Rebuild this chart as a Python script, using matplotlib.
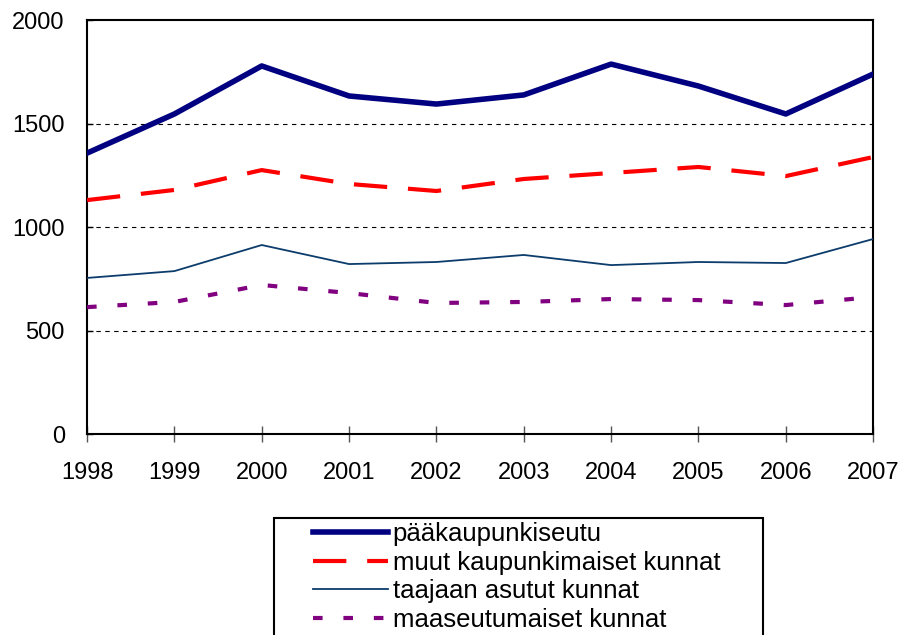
import matplotlib
matplotlib.use("Agg")
import matplotlib.pyplot as plt
from matplotlib.patches import Rectangle

years = [1998, 1999, 2000, 2001, 2002, 2003, 2004, 2005, 2006, 2007]
paakaupunkiseutu = [1357, 1546, 1778, 1633, 1594, 1638, 1787, 1681, 1546, 1739]
muut_kaupunkimaiset = [1130, 1179, 1275, 1208, 1174, 1232, 1261, 1290, 1246, 1338]
taajaan_asutut = [754, 787, 913, 821, 831, 865, 816, 831, 826, 942]
maaseutumaiset = [613, 638, 720, 681, 633, 638, 652, 647, 623, 662]
labels = ["pääkaupunkiseutu", "muut kaupunkimaiset kunnat",
          "taajaan asutut kunnat", "maaseutumaiset kunnat"]
y_ticks = [0, 500, 1000, 1500, 2000]

plt.rcParams["font.family"] = ["Liberation Sans", "DejaVu Sans"]

fig = plt.figure(figsize=(9.02, 6.35), dpi=100)
ax = fig.add_axes([0.0965, 0.3165, 0.8715, 0.652])

ax.plot(years, paakaupunkiseutu, color="#000080", lw=4.0,
        solid_joinstyle="round", label=labels[0], zorder=4)
ax.plot(years, muut_kaupunkimaiset, color="#ff0000", lw=3.0,
        dashes=(8, 5), label=labels[1], zorder=3)
ax.plot(years, taajaan_asutut, color="#0b3c6b", lw=1.3,
        label=labels[2], zorder=3)
ax.plot(years, maaseutumaiset, color="#800080", lw=3.0,
        dashes=(2.3, 5), label=labels[3], zorder=3)

ax.set_xlim(years[0], years[-1])
ax.set_ylim(0, 2000)
ax.set_xticks(years)
ax.set_yticks(y_ticks)
for v in y_ticks[1:-1]:
    ax.axhline(v, color="black", lw=0.8, dashes=(4, 4), zorder=1)

for s in ax.spines.values():
    s.set_linewidth(1.5)
ax.tick_params(labelsize=17)
ax.tick_params(axis="x", direction="inout", length=12, width=1.0,
               color="#555555", pad=14)
ax.tick_params(axis="y", direction="in", length=4, width=1.0, pad=16)

handles, labs = ax.get_legend_handles_labels()
fig.legend(handles, labs, loc="upper left", bbox_to_anchor=(0.3415, 0.186),
           frameon=False, fontsize=18.5, handlelength=2.9, handletextpad=0.2,
           labelspacing=0.18, borderpad=0.2, borderaxespad=0)
fig.patches.append(Rectangle((274 / 902, -0.05), 489 / 902, 0.05 + 117 / 635,
                             transform=fig.transFigure, fill=False,
                             edgecolor="black", lw=1.5))

fig.savefig("out.png", dpi=100)
